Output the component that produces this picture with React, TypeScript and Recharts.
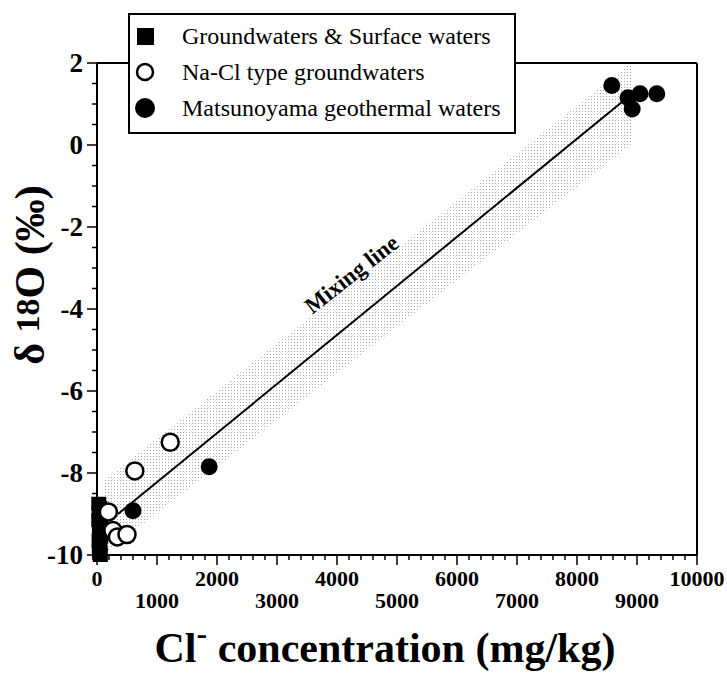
import React from 'react';
import {
  ComposedChart,
  XAxis,
  YAxis,
  Scatter,
  Line,
  Area,
  ReferenceLine,
  ReferenceDot,
  Legend,
} from 'recharts';

const FONT = '"Liberation Serif", "Times New Roman", serif';

// Groundwaters & Surface waters (filled squares): Cl- (mg/kg), d18O (permil)
const gwCl = [30, 45, 35, 50, 30, 55, 40, 45, 60, 35, 50, 40, 45, 55, 40];
const gwO18 = [-8.75, -8.85, -8.95, -9.05, -9.15, -9.25, -9.35, -9.45, -9.55, -9.65, -9.75, -9.85, -9.95, -10.0, -9.9];

// Na-Cl type groundwaters (open circles)
const naclCl = [1220, 630, 190, 265, 340, 500];
const naclO18 = [-7.25, -7.95, -8.95, -9.4, -9.56, -9.5];

// Matsunoyama geothermal waters (filled circles)
const geoCl = [600, 1870, 8580, 8850, 9050, 9330, 8920];
const geoO18 = [-8.92, -7.85, 1.45, 1.15, 1.25, 1.25, 0.88];

// mixing line end members
const mixCl = [350, 8750];
const mixO18 = [-9.0, 1.05];

// shaded band around the mixing line
const bandCl = [100, 8900];
const bandLow = [-10.0, 0.0];
const bandHigh = [-8.2, 2.0];

const xLabels = [0, 1000, 2000, 3000, 4000, 5000, 6000, 7000, 8000, 9000, 10000];
const yLabels = [-10, -8, -6, -4, -2, 0, 2];
const xMinor = Array.from({ length: 51 }, (_, i) => i * 200);
const yMinor = Array.from({ length: 25 }, (_, i) => -10 + i * 0.5);

const legendItems = [
  { name: 'Groundwaters & Surface waters', kind: 'square' },
  { name: 'Na-Cl type groundwaters', kind: 'open' },
  { name: 'Matsunoyama geothermal waters', kind: 'filled' },
];

const gwData = gwCl.map((x, i) => ({ x, y: gwO18[i] }));
const naclData = naclCl.map((x, i) => ({ x, y: naclO18[i] }));
const geoData = geoCl.map((x, i) => ({ x, y: geoO18[i] }));
const mixData = mixCl.map((x, i) => ({ x, y: mixO18[i] }));
const bandData = bandCl.map((x, i) => ({ x, band: [bandLow[i], bandHigh[i]] }));

const squareShape = (p: any) => (
  <rect x={p.cx - 7.5} y={p.cy - 7} width={15} height={14} fill="#000" />
);
const openShape = (p: any) => (
  <circle cx={p.cx} cy={p.cy} r={8.5} fill="#fff" stroke="#000" strokeWidth={2.5} />
);
const filledShape = (p: any) => <circle cx={p.cx} cy={p.cy} r={8.5} fill="#000" />;

const XTick = (props: any) => {
  const { x, y, payload } = props;
  const v = payload.value;
  const idx = xLabels.indexOf(v);
  const major = idx >= 0;
  return (
    <g>
      <line x1={x} x2={x} y1={y} y2={y + (major ? 10 : 5)} stroke="#000" strokeWidth={1.5} />
      {major && (
        <text
          x={x}
          y={y + (idx % 2 === 0 ? 31 : 53)}
          textAnchor="middle"
          fontFamily={FONT}
          fontWeight="bold"
          fontSize={22}
          fill="#000"
        >
          {v}
        </text>
      )}
    </g>
  );
};

const YTick = (props: any) => {
  const { x, y, payload } = props;
  const v = payload.value;
  const major = yLabels.includes(v);
  return (
    <g>
      <line x1={x} x2={x - (major ? 10 : 5)} y1={y} y2={y} stroke="#000" strokeWidth={1.5} />
      {major && (
        <text
          x={x - 14}
          y={y}
          dy="0.35em"
          textAnchor="end"
          fontFamily={FONT}
          fontWeight="bold"
          fontSize={27}
          fill="#000"
        >
          {v}
        </text>
      )}
    </g>
  );
};

const LegendBox = () => (
  <div
    style={{
      width: 388,
      height: 121,
      boxSizing: 'border-box',
      border: '2px solid #000',
      background: '#fff',
      fontFamily: FONT,
      fontSize: 24,
      color: '#000',
      paddingTop: 3,
    }}
  >
    {legendItems.map((it) => (
      <div key={it.name} style={{ height: 36, display: 'flex', alignItems: 'center' }}>
        <svg width={30} height={24} style={{ flex: 'none' }}>
          {it.kind === 'square' && <rect x={7} y={4} width={17} height={17} fill="#000" />}
          {it.kind === 'open' && (
            <circle cx={15} cy={12} r={8} fill="#fff" stroke="#000" strokeWidth={2.5} />
          )}
          {it.kind === 'filled' && <circle cx={15} cy={12} r={10} fill="#000" />}
        </svg>
        <span style={{ marginLeft: 22, whiteSpace: 'nowrap' }}>{it.name}</span>
      </div>
    ))}
  </div>
);

const YTitle = (p: any) => {
  const vb = p.viewBox;
  const cx = vb.x + 27;
  const cy = vb.y + vb.height / 2 - 34;
  return (
    <text
      x={cx}
      y={cy}
      transform={`rotate(-90, ${cx}, ${cy})`}
      textAnchor="middle"
      fontFamily={FONT}
      fontWeight="bold"
      fontSize={42}
      fill="#000"
    >
      <tspan>δ </tspan>
      <tspan fontSize={34} dy={-5}>18</tspan>
      <tspan dy={5}>O (‰)</tspan>
    </text>
  );
};

const XTitle = (p: any) => {
  const vb = p.viewBox;
  const cx = vb.x + vb.width / 2 - 12;
  return (
    <text
      x={cx}
      y={vb.y + 107}
      textAnchor="middle"
      fontFamily={FONT}
      fontWeight="bold"
      fontSize={42}
      fill="#000"
    >
      <tspan>Cl</tspan>
      <tspan fontSize={32} dy={-18}>-</tspan>
      <tspan dy={18}> concentration (mg/kg)</tspan>
    </text>
  );
};

const MixLabel = (p: any) => {
  const vb = p.viewBox;
  const cx = vb.x + 1;
  const cy = vb.y + 1;
  return (
    <text
      x={cx}
      y={cy}
      transform={`rotate(-38, ${cx}, ${cy})`}
      textAnchor="middle"
      fontFamily={FONT}
      fontWeight="bold"
      fontSize={23}
      fill="#000"
    >
      Mixing line
    </text>
  );
};

export default function App() {
  return (
    <div style={{ position: 'absolute', left: 0, top: 0, background: '#fff' }}>
      <ComposedChart
        width={727}
        height={673}
        data={bandData}
        margin={{ top: 63, right: 30, bottom: 58, left: 17 }}
      >
        <defs>
          <pattern id="stipple" width="3" height="3" patternUnits="userSpaceOnUse">
            <rect x={0} y={0} width={1} height={1} fill="#a8a8a8" />
          </pattern>
        </defs>
        <XAxis
          dataKey="x"
          type="number"
          domain={[0, 10000]}
          ticks={xMinor}
          interval={0}
          height={60}
          tickSize={0}
          tickMargin={0}
          tickLine={false}
          axisLine={{ stroke: '#000', strokeWidth: 2 }}
          tick={<XTick />}
          label={{ content: XTitle }}
        />
        <YAxis
          type="number"
          domain={[-10, 2]}
          ticks={yMinor}
          interval={0}
          width={80}
          tickSize={0}
          tickMargin={0}
          tickLine={false}
          axisLine={{ stroke: '#000', strokeWidth: 2 }}
          tick={<YTick />}
          label={{ content: YTitle }}
        />
        <ReferenceLine y={2} stroke="#000" strokeWidth={2} />
        <ReferenceLine x={10000} stroke="#000" strokeWidth={2} />
        <Area
          dataKey="band"
          type="linear"
          fill="url(#stipple)"
          fillOpacity={1}
          stroke="none"
          isAnimationActive={false}
        />
        <Line
          data={mixData}
          dataKey="y"
          type="linear"
          stroke="#000"
          strokeWidth={2}
          dot={false}
          activeDot={false}
          isAnimationActive={false}
        />
        <Scatter name="Groundwaters & Surface waters" data={gwData} dataKey="y" shape={squareShape} isAnimationActive={false} />
        <Scatter name="Na-Cl type groundwaters" data={naclData} dataKey="y" shape={openShape} isAnimationActive={false} />
        <Scatter name="Matsunoyama geothermal waters" data={geoData} dataKey="y" shape={filledShape} isAnimationActive={false} />
        <ReferenceDot x={4320} y={-3.3} r={1} fill="none" stroke="none" label={{ content: MixLabel }} />
        <Legend
          layout="vertical"
          align="center"
          verticalAlign="middle"
          content={LegendBox}
          wrapperStyle={{ left: 128, top: 13, width: 388, height: 121 }}
        />
      </ComposedChart>
    </div>
  );
}
